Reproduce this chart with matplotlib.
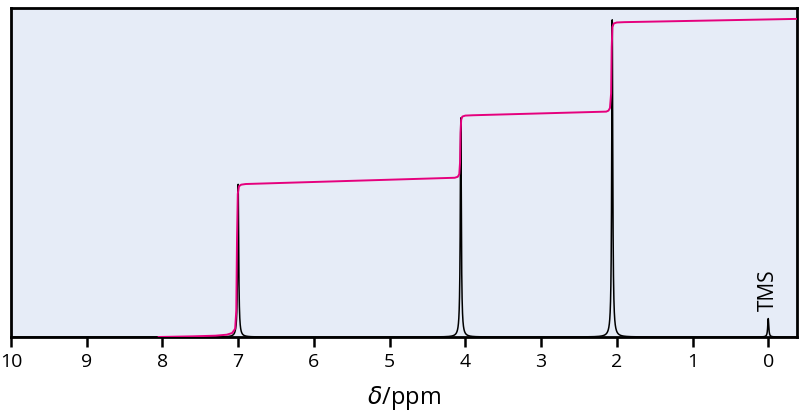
import numpy as np
from matplotlib import pyplot as plt

plt.rcParams['font.family'] = ['Open Sans', 'DejaVu Sans']

# peaks: position (ppm), height (% of full scale)
peak_ppm = [7.00, 4.06, 2.06, 0.00]
peak_height = [46.4, 66.6, 96.4, 5.6]
peak_hwhm = 0.008

# integral trace (ppm, level)
integ_ppm = [8.05, 7.6, 7.3, 7.15, 7.08, 7.04, 7.025, 7.015, 7.005, 6.99, 6.96, 6.9,
             4.14, 4.10, 4.08, 4.07, 4.063, 4.055, 4.04, 4.0, 3.9,
             2.14, 2.11, 2.09, 2.075, 2.067, 2.058, 2.04, 2.0, 1.9, -0.4]
integ_val = [0.0, 0.2, 0.4, 0.7, 1.2, 2.5, 8.0, 30.0, 43.5, 45.8, 46.3, 46.5,
             48.4, 48.7, 49.5, 53.0, 62.0, 66.0, 67.0, 67.3, 67.4,
             68.5, 68.8, 69.6, 74.0, 88.0, 94.2, 95.3, 95.6, 95.7, 96.7]

ppm = np.linspace(10.5, -0.5, 40000)
spec = np.zeros_like(ppm)
for p, h in zip(peak_ppm, peak_height):
    spec += h / (1 + ((ppm - p) / peak_hwhm) ** 2)

fig = plt.figure(figsize=(8.01, 4.14), dpi=100)
ax = fig.add_axes([11 / 801, 76 / 414, 786 / 801, 329 / 414])
ax.set_facecolor('#e6ecf7')

ax.plot(ppm, spec, color='black', lw=1.1, zorder=2)
ax.plot(integ_ppm, integ_val, color='#e5007d', lw=1.4, zorder=3)

ax.text(0.0, 8.2, 'TMS', rotation=90, ha='center', va='bottom', fontsize=15)

ax.set_xlim(10, -0.38)
ax.set_ylim(0, 100)
ax.set_xticks(range(10, -1, -1))
ax.set_yticks([])
ax.tick_params(axis='x', direction='out', length=7, width=1.8, labelsize=14, pad=4)
for s in ax.spines.values():
    s.set_linewidth(2.0)
ax.set_xlabel(r'$\delta$/ppm', fontsize=17, labelpad=9)

fig.savefig('out.png', dpi=100)
